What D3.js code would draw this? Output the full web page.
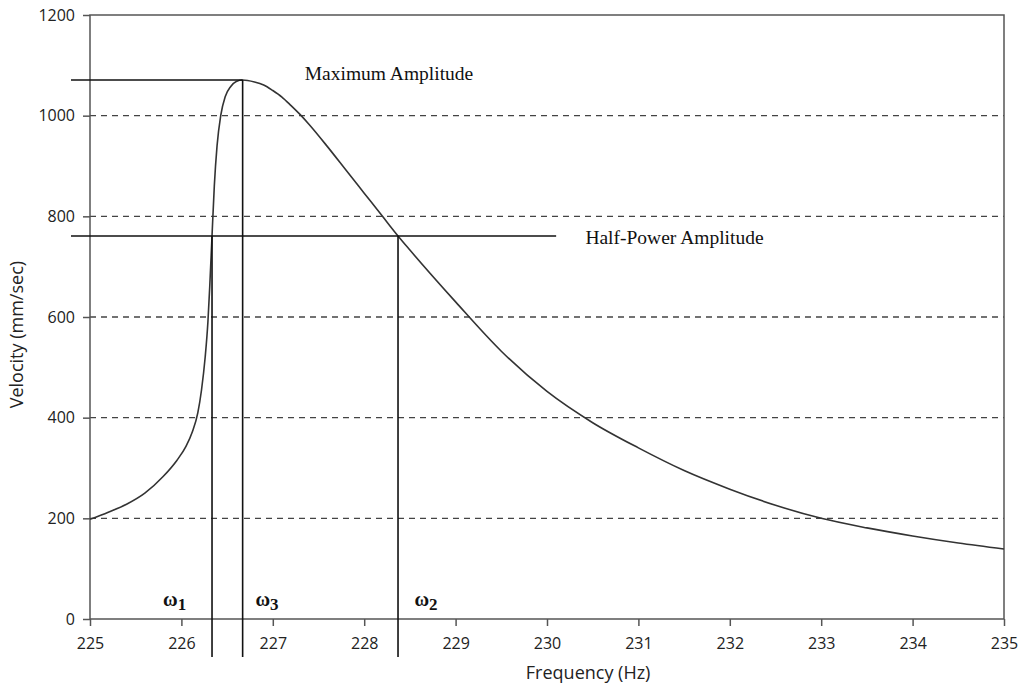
<!DOCTYPE html>
<html>
<head>
<meta charset="utf-8">
<script src="https://cdn.jsdelivr.net/npm/d3@7"></script>
<style>
    body { margin: 0; background: #fff; }
    .tick text { font-family: "Open Sans", sans-serif; font-size: 16px; fill: #222; }
    .axis_title { font-family: "Open Sans", sans-serif; font-size: 18px; fill: #222; }
    .note { font-family: "Liberation Serif", serif; font-size: 19.5px; fill: #111; }
    .omega { font-family: "Liberation Serif", serif; font-size: 20px; font-weight: bold; fill: #111; }
</style>
</head>
<body>
<div class="graph_container"></div>
<script>
// frequency response data (Hz, mm/sec)
const freqs = [225.0, 225.2, 225.4, 225.6, 225.8, 225.95, 226.05, 226.12, 226.18, 226.22, 226.26, 226.29, 226.31, 226.335, 226.36, 226.39, 226.43, 226.48, 226.54, 226.6, 226.67,
    226.8, 226.9, 227.0, 227.1, 227.2, 227.3, 227.4, 227.6, 227.8, 228.0, 228.2, 228.37, 228.5, 229.0, 229.5, 230.0, 230.5, 231.0, 231.5, 232.0, 232.5, 233.0, 233.5, 234.0, 234.5, 235.0];
const velocity = [198, 212, 228, 250, 283, 315, 343, 372, 410, 455, 520, 590, 660, 761, 860, 940, 1000, 1038, 1058, 1068, 1071,
    1067, 1061, 1050, 1037, 1020, 1002, 982, 938, 892, 846, 800, 761, 733, 630, 532, 452, 390, 340, 295, 258, 226, 200, 181, 165, 151, 139];

const yTicks = [0, 200, 400, 600, 800, 1000, 1200];
const xTicks = [225, 226, 227, 228, 229, 230, 231, 232, 233, 234, 235];
const gridValues = [200, 400, 600, 800, 1000];

const maxAmp = 1071;
const halfAmp = 761;
const omegas = [
    { name: "1", f: 226.335, v: 761, labelF: 225.8 },
    { name: "3", f: 226.67, v: 1071, labelF: 226.81 },
    { name: "2", f: 228.37, v: 761, labelF: 228.55 }
];

document.addEventListener("DOMContentLoaded", () => {
    const margin_top = 15;
    const margin_left = 90;
    const width = 1004 - margin_left;
    const height = 619 - margin_top;

    const svg = d3.select(".graph_container").append("svg")
        .attr("width", 1026).attr("height", 685);
    const g = svg.append("g").attr("transform", "translate(" + margin_left + "," + margin_top + ")");

    const xScale = d3.scaleLinear().domain([225, 235]).range([0, width]);
    const yScale = d3.scaleLinear().domain([0, 1200]).range([height, 0]);

    //^ GRID //
    g.selectAll(".grid").data(gridValues).enter().append("line")
        .attr("x1", 0).attr("x2", width)
        .attr("y1", d => yScale(d)).attr("y2", d => yScale(d))
        .attr("stroke", "#444").attr("stroke-width", 1.3).attr("stroke-dasharray", "6,5");

    //^ FRAME //
    g.append("rect").attr("width", width).attr("height", height)
        .attr("fill", "none").attr("stroke", "#555").attr("stroke-width", 1.5);

    //^ AXES //
    const yAxis = d3.axisLeft(yScale).tickValues(yTicks).tickFormat(d3.format("d")).tickSize(7).tickPadding(8).tickSizeOuter(0);
    const xAxis = d3.axisBottom(xScale).tickValues(xTicks).tickFormat(d3.format("d")).tickSize(7).tickPadding(12).tickSizeOuter(0);
    g.append("g").call(yAxis).call(s => s.select(".domain").remove());
    g.append("g").attr("transform", "translate(0," + height + ")").call(xAxis).call(s => s.select(".domain").remove());
    g.selectAll(".tick line").attr("stroke", "#555").attr("stroke-width", 1.5);

    //^ AXIS TITLES //
    g.append("text").attr("class", "axis_title").attr("text-anchor", "middle")
        .attr("x", xScale(230.45)).attr("y", height + 60).text("Frequency (Hz)");
    g.append("text").attr("class", "axis_title").attr("text-anchor", "middle")
        .attr("transform", "rotate(-90)").attr("x", -yScale(565)).attr("y", -67).text("Velocity (mm/sec)");

    //^ CURVE //
    const pts = freqs.map((f, i) => [f, velocity[i]]);
    const line = d3.line().x(d => xScale(d[0])).y(d => yScale(d[1])).curve(d3.curveMonotoneX);
    g.append("path").datum(pts).attr("d", line)
        .attr("fill", "none").attr("stroke", "#333").attr("stroke-width", 1.6);

    //^ REFERENCE LINES //
    g.append("line").attr("x1", -19).attr("x2", xScale(omegas[1].f))
        .attr("y1", yScale(maxAmp)).attr("y2", yScale(maxAmp))
        .attr("stroke", "#111").attr("stroke-width", 1.5);
    g.append("line").attr("x1", -19).attr("x2", xScale(230.1))
        .attr("y1", yScale(halfAmp)).attr("y2", yScale(halfAmp))
        .attr("stroke", "#111").attr("stroke-width", 1.5);
    g.selectAll(".omega_line").data(omegas).enter().append("line")
        .attr("x1", d => xScale(d.f)).attr("x2", d => xScale(d.f))
        .attr("y1", d => yScale(d.v)).attr("y2", height + 38)
        .attr("stroke", "#111").attr("stroke-width", 1.6);

    //^ NOTES //
    g.append("text").attr("class", "note").attr("x", xScale(227.35)).attr("y", yScale(maxAmp))
        .text("Maximum Amplitude");
    g.append("text").attr("class", "note").attr("x", xScale(230.42)).attr("y", yScale(halfAmp) + 8)
        .text("Half-Power Amplitude");

    const om = g.selectAll(".omega").data(omegas).enter().append("text")
        .attr("class", "omega").attr("x", d => xScale(d.labelF)).attr("y", height - 13);
    om.append("tspan").text("ω");
    om.append("tspan").attr("dy", 4).attr("font-size", "17px").text(d => d.name);
});
</script>
</body>
</html>
